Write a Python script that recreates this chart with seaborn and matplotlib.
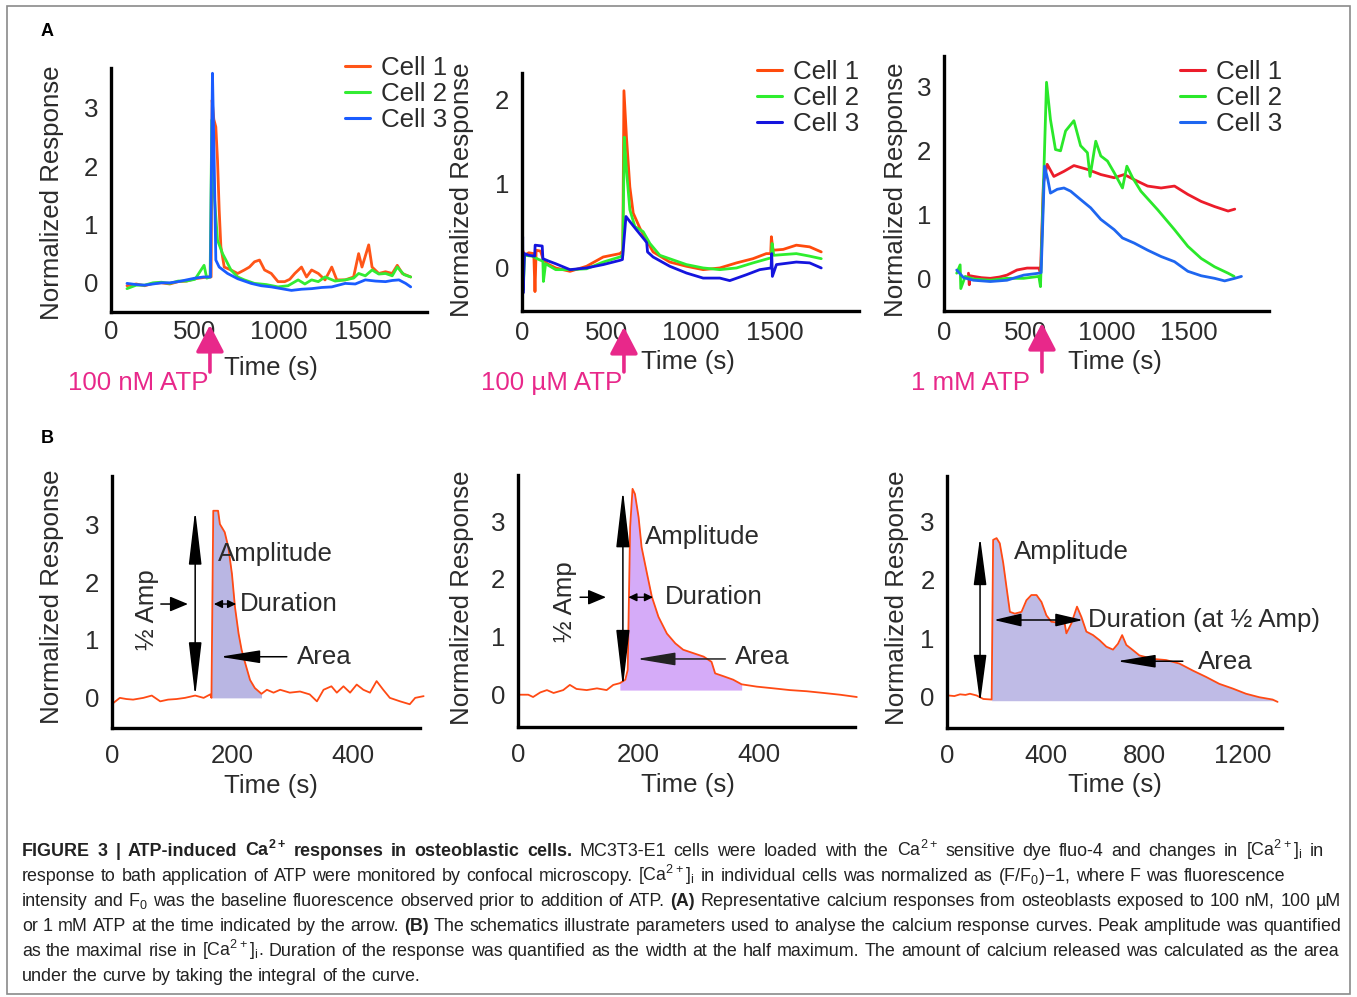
import matplotlib
matplotlib.use("Agg")
import matplotlib.pyplot as plt
import numpy as np
import pandas as pd
import seaborn as sns
from matplotlib import font_manager
from matplotlib.patches import Rectangle

W, H = 1357, 997
MAGENTA = "#e8288a"
INK = "#2b2b2b"
TRACE = "#ff4a14"

# ---- Panel A: responses of three cells, time (s) vs normalized response ----
cells = ["Cell 1", "Cell 2", "Cell 3"]

a1_c1_t = [95, 150, 200, 250, 300, 350, 400, 450, 500, 550, 580, 596, 602, 612, 624, 634, 644, 654, 674, 714,
           754, 794, 824, 854, 884, 914, 954, 994, 1034, 1064, 1094, 1134, 1164, 1194, 1234, 1274, 1314, 1344, 1394, 1444,
           1474, 1494, 1534, 1554, 1594, 1634, 1674, 1704, 1734, 1784]
a1_c1_y = [-0.05, -0.02, -0.05, -0.01, 0.0, -0.02, 0.02, 0.03, 0.07, 0.09, 0.1, 0.1, 3.13, 2.8, 2.67, 2.1, 1.25, 0.62, 0.27, 0.22,
           0.16, 0.22, 0.27, 0.36, 0.39, 0.22, 0.16, 0.02, 0.02, 0.06, 0.16, 0.27, 0.1, 0.22, 0.16, 0.05, 0.27, 0.05, 0.05, 0.1,
           0.5, 0.27, 0.65, 0.27, 0.16, 0.19, 0.16, 0.3, 0.16, 0.1]
a1_c2_t = [95, 150, 200, 250, 300, 350, 400, 450, 500, 554, 570, 590, 600, 614, 634, 664, 684, 714, 754, 794,
           854, 924, 994, 1054, 1114, 1154, 1194, 1234, 1274, 1334, 1394, 1444, 1474, 1514, 1554, 1594, 1634, 1674, 1704, 1744,
           1784]
a1_c2_y = [-0.1, -0.04, -0.04, 0.0, 0.01, -0.01, 0.03, 0.03, 0.06, 0.3, 0.08, 0.1, 2.79, 1.53, 0.73, 0.5, 0.39, 0.22, 0.1, 0.05,
           -0.01, -0.03, -0.07, -0.05, 0.05, -0.02, 0.05, 0.02, 0.1, 0.03, 0.05, 0.08, 0.16, 0.12, 0.22, 0.15, 0.16, 0.12, 0.27, 0.14,
           0.1]
a1_c3_t = [95, 150, 200, 250, 300, 350, 400, 450, 500, 550, 592, 598, 604, 614, 624, 644, 694, 754, 834, 894,
           954, 1014, 1074, 1134, 1194, 1254, 1314, 1394, 1454, 1514, 1574, 1634, 1674, 1714, 1754, 1784]
a1_c3_y = [-0.01, -0.03, -0.04, -0.02, 0.0, 0.0, 0.02, 0.05, 0.08, 0.1, 0.1, 2.0, 3.59, 2.1, 0.39, 0.27, 0.16, 0.07, -0.01, -0.05,
           -0.07, -0.1, -0.13, -0.11, -0.1, -0.08, -0.07, -0.01, -0.02, 0.05, 0.03, 0.02, 0.04, 0.05, -0.01, -0.07]

a2_c1_t = [4, 15, 40, 70, 77, 84, 110, 126, 150, 200, 285, 383, 482, 581, 598, 605, 620, 640, 660, 700,
           739, 778, 877, 976, 1075, 1174, 1273, 1371, 1450, 1476, 1480, 1490, 1550, 1628, 1707, 1776]
a2_c1_y = [0.21, 0.15, 0.18, 0.17, -0.28, 0.21, 0.2, 0.1, 0.05, 0.0, -0.04, 0.02, 0.13, 0.17, 0.2, 2.1, 1.55, 0.96, 0.65, 0.47,
           0.33, 0.19, 0.07, 0.02, -0.02, 0.0, 0.06, 0.11, 0.17, 0.17, 0.37, 0.21, 0.22, 0.27, 0.25, 0.19]
a2_c2_t = [4, 8, 15, 60, 100, 124, 127, 140, 200, 285, 383, 482, 581, 598, 607, 620, 640, 670, 719, 759,
           818, 976, 1075, 1174, 1273, 1371, 1460, 1480, 1484, 1494, 1560, 1628, 1707, 1776]
a2_c2_y = [0.1, -0.26, 0.15, 0.14, 0.1, 0.08, -0.16, 0.05, -0.02, -0.02, -0.01, 0.07, 0.13, 0.15, 1.55, 1.16, 0.69, 0.49, 0.43, 0.29,
           0.15, 0.04, 0.0, -0.02, 0.0, 0.06, 0.11, 0.12, 0.29, 0.15, 0.16, 0.17, 0.14, 0.11]
a2_c3_t = [2, 4, 6, 15, 40, 75, 78, 120, 124, 160, 200, 285, 383, 482, 581, 596, 617, 640, 680, 729,
           740, 745, 778, 877, 976, 1075, 1174, 1233, 1332, 1411, 1478, 1482, 1486, 1510, 1628, 1707, 1776]
a2_c3_y = [0.1, 0.37, -0.3, 0.17, 0.15, 0.14, 0.27, 0.26, 0.11, 0.08, 0.05, -0.02, 0.0, 0.04, 0.09, 0.1, 0.61, 0.55, 0.45, 0.33,
           0.3, 0.19, 0.13, 0.02, -0.06, -0.12, -0.12, -0.15, -0.08, -0.02, 0.0, 0.17, -0.1, 0.04, 0.07, 0.06, 0.0]

a3_c1_t = [150, 155, 160, 181, 230, 284, 340, 386, 448, 510, 560, 582, 592, 610, 633, 674, 736, 797, 880, 962,
           1044, 1106, 1167, 1249, 1332, 1414, 1496, 1578, 1660, 1743, 1784]
a3_c1_y = [0.09, -0.09, 0.05, 0.04, 0.02, 0.01, 0.03, 0.06, 0.14, 0.17, 0.17, 0.17, 0.09, 1.5, 1.79, 1.6, 1.68, 1.77, 1.71, 1.63,
           1.58, 1.63, 1.55, 1.45, 1.42, 1.45, 1.32, 1.21, 1.13, 1.06, 1.09]
a3_c2_t = [78, 99, 103, 130, 181, 284, 386, 489, 582, 592, 629, 653, 684, 715, 746, 797, 838, 880, 896, 931,
           962, 1003, 1044, 1095, 1122, 1157, 1208, 1311, 1414, 1496, 1578, 1660, 1743, 1780]
a3_c2_y = [0.09, 0.22, -0.15, 0.04, 0.0, -0.02, 0.01, 0.01, 0.04, -0.12, 3.07, 2.49, 2.02, 2.0, 2.31, 2.47, 2.08, 1.97, 1.6, 2.15,
           1.92, 1.84, 1.66, 1.42, 1.76, 1.58, 1.37, 1.08, 0.77, 0.51, 0.32, 0.19, 0.09, 0.04]
a3_c3_t = [78, 120, 181, 284, 386, 489, 582, 596, 617, 637, 653, 695, 736, 777, 838, 900, 962, 1003, 1044, 1095,
           1167, 1249, 1332, 1414, 1496, 1578, 1660, 1722, 1784, 1825]
a3_c3_y = [0.14, 0.02, -0.02, -0.04, -0.02, 0.06, 0.09, 0.1, 1.76, 1.55, 1.34, 1.4, 1.42, 1.37, 1.24, 1.11, 0.93, 0.85, 0.77, 0.64,
           0.56, 0.45, 0.35, 0.27, 0.12, 0.05, 0.01, -0.03, 0.01, 0.04]

atp_labels = ["100 nM ATP", "100 \u00b5M ATP", "1 mM ATP"]
atp_time = [589, 605, 601]

# ---- Panel B: schematic traces ----
b1_t = [2, 13, 24, 35, 52, 66, 80, 93, 107, 121, 138, 152, 163, 165, 168, 176, 179, 187, 193, 199,
        204, 210, 215, 221, 229, 237, 248, 257, 268, 279, 295, 312, 328, 340, 351, 364, 373, 384, 395, 406,
        417, 428, 439, 450, 461, 478, 494, 503, 517]
b1_y = [-0.09, 0.0, -0.02, -0.03, 0.0, 0.04, -0.06, -0.03, -0.02, 0.0, 0.04, 0.0, 0.06, 0.0, 3.23, 3.23, 3.0, 2.86, 2.6, 2.14,
        1.57, 1.11, 0.83, 0.6, 0.31, 0.17, 0.07, 0.14, 0.09, 0.14, 0.09, 0.11, 0.06, -0.06, 0.14, 0.2, 0.09, 0.2, 0.09, 0.23,
        0.14, 0.09, 0.29, 0.14, 0.0, -0.06, -0.11, 0.0, 0.03]
b2_t = [3, 17, 25, 37, 48, 59, 75, 86, 97, 114, 131, 147, 158, 169, 178, 182, 186, 190, 194, 200,
        205, 214, 222, 233, 247, 261, 274, 291, 308, 321, 327, 341, 357, 371, 396, 424, 451, 479, 507, 534,
        562]
b2_y = [-0.01, -0.01, -0.05, 0.03, 0.07, 0.02, 0.07, 0.16, 0.09, 0.07, 0.1, 0.07, 0.16, 0.19, 0.25, 0.42, 2.9, 3.56, 3.47, 3.07,
        2.55, 2.09, 1.69, 1.34, 1.05, 0.88, 0.77, 0.71, 0.65, 0.56, 0.36, 0.31, 0.25, 0.17, 0.13, 0.1, 0.07, 0.05, 0.02, -0.01,
        -0.05]
b3_t = [5, 30, 53, 75, 93, 120, 147, 181, 187, 201, 214, 228, 241, 255, 275, 302, 322, 342, 363, 383,
        403, 423, 457, 477, 484, 504, 527, 545, 565, 592, 619, 646, 673, 693, 710, 727, 754, 780, 834, 888,
        942, 996, 1050, 1104, 1158, 1212, 1266, 1320, 1340]
b3_y = [0.01, 0.0, 0.03, 0.02, 0.04, 0.01, -0.05, -0.06, 2.69, 2.72, 2.63, 2.29, 1.88, 1.45, 1.42, 1.45, 1.65, 1.74, 1.74, 1.62,
        1.39, 1.28, 1.26, 1.25, 1.08, 1.25, 1.54, 1.36, 1.11, 1.05, 0.96, 0.85, 0.8, 0.9, 1.05, 0.88, 0.79, 0.7, 0.64, 0.62,
        0.56, 0.44, 0.33, 0.21, 0.13, 0.04, -0.02, -0.06, -0.1]
# shaded area: (start, end, base)
b_area = [(165, 248, 0.0), (169, 371, 0.07), (181, 1340, -0.08)]

caption = [
    [("bold", "FIGURE 3 | ATP-induced Ca$^{2+}$ responses in osteoblastic cells."),
     ("normal", "MC3T3-E1 cells were loaded with the Ca$^{2+}$ sensitive dye fluo-4 and changes in [Ca$^{2+}$]$_i$ in")],
    [("normal", "response to bath application of ATP were monitored by confocal microscopy. [Ca$^{2+}$]$_i$ in individual "
                "cells was normalized as (F/F$_0$)\u22121, where F was fluorescence")],
    [("normal", "intensity and F$_0$ was the baseline fluorescence observed prior to addition of ATP."), ("bold", "(A)"),
     ("normal", "Representative calcium responses from osteoblasts exposed to 100 nM, 100 \u00b5M")],
    [("normal", "or 1 mM ATP at the time indicated by the arrow."), ("bold", "(B)"),
     ("normal", "The schematics illustrate parameters used to analyse the calcium response curves. Peak amplitude was quantified")],
    [("normal", "as the maximal rise in [Ca$^{2+}$]$_i$. Duration of the response was quantified as the width at the half "
                "maximum. The amount of calcium released was calculated as the area")],
    [("normal", "under the curve by taking the integral of the curve.")],
]
caption_right = [1324, 1285, 1341, 1341, 1339, None]

# ---------------------------------------------------------------------------
sns.set_style("white")
plt.rcParams["font.family"] = ["Liberation Sans", "DejaVu Sans"]
plt.rcParams["mathtext.default"] = "regular"
FS = 18.6

fig = plt.figure(figsize=(W / 100, H / 100), dpi=100)


def px_axes(left, top, right, bottom):
    return fig.add_axes([left / W, 1 - bottom / H, (right - left) / W, (bottom - top) / H])


def style(ax, xlim, ylim, xticks, yticks, xpad, xlab, ylab, yticklabels=None):
    ax.set_xlim(xlim)
    ax.set_ylim(ylim)
    ax.set_xticks(xticks)
    ax.set_yticks(yticks)
    if yticklabels is not None:
        ax.set_yticklabels(yticklabels)
    sns.despine(ax=ax)
    for s in ("left", "bottom"):
        ax.spines[s].set_linewidth(2.4)
        ax.spines[s].set_color("black")
    ax.tick_params(direction="in", length=8.5, width=2.4, color="black", labelcolor=INK, labelsize=FS)
    ax.tick_params(axis="x", pad=xpad)
    ax.tick_params(axis="y", pad=9)
    ax.set_xlabel("Time (s)", fontsize=FS, color=INK, va="center")
    ax.set_ylabel("Normalized Response", fontsize=FS, color=INK, va="center")
    ax.xaxis.set_label_coords(*xlab)
    ax.yaxis.set_label_coords(*ylab)
    ax.patch.set_alpha(0)


def arrow(ax, start, end, style_, hl, hw, lw=1.1, color="black", coords="data"):
    ax.annotate("", xy=end, xytext=start, xycoords=coords, textcoords=coords,
                arrowprops=dict(arrowstyle=f"{style_},head_length={hl},head_width={hw}",
                                mutation_scale=1, lw=lw, color=color, shrinkA=0, shrinkB=0),
                annotation_clip=False)


# ---------------- Panel A ----------------
a_series = [
    [(a1_c1_t, a1_c1_y), (a1_c2_t, a1_c2_y), (a1_c3_t, a1_c3_y)],
    [(a2_c1_t, a2_c1_y), (a2_c2_t, a2_c2_y), (a2_c3_t, a2_c3_y)],
    [(a3_c1_t, a3_c1_y), (a3_c2_t, a3_c2_y), (a3_c3_t, a3_c3_y)],
]
a_colors = [["#ff5518", "#33ec33", "#1a5cff"],
            ["#ff4a0c", "#2eee2e", "#1414de"],
            ["#ec1c2a", "#2ae82a", "#1e66f0"]]
a_boxes = [(111, 68, 427, 312), (522, 73, 859, 311), (944, 56, 1269, 311)]
a_lims = [((0, 1881), (-0.5, 3.68)), ((0, 2000), (-0.51, 2.31)), ((0, 1994), (-0.5, 3.48))]
a_yticks = [[0, 1, 2, 3], [0, 0.5, 1, 1.5, 2], [0, 1, 2, 3]]
a_ytl = [None, ["0", "", "1", "", "2"], None]
a_xlab = [(0.506, -0.2295), (0.493, -0.214), (0.526, -0.20)]
a_ylab = [(-0.187, 0.49), (-0.178, 0.508), (-0.148, 0.475)]
a_legend = [(345, 56), (757, 60), (1180, 60)]
a_arrow = [(-0.053, -0.246), (-0.067, -0.256), (-0.047, -0.239)]
a_label_right = [208, 622, 1030]
a_xpad = [6, 7, 7]

for i in range(3):
    ax = px_axes(*a_boxes[i])
    df = pd.concat([pd.DataFrame({"time": t, "response": y, "cell": c})
                    for c, (t, y) in zip(cells, a_series[i])], ignore_index=True)
    sns.lineplot(data=df, x="time", y="response", hue="cell", palette=a_colors[i],
                 lw=2.0, ax=ax, legend=False, estimator=None, sort=False)
    style(ax, a_lims[i][0], a_lims[i][1], [0, 500, 1000, 1500], a_yticks[i], a_xpad[i],
          a_xlab[i], a_ylab[i], a_ytl[i])
    lx, ly = a_legend[i]
    leg = ax.legend(ax.get_lines()[:3], cells, loc="upper left", bbox_to_anchor=(lx / W, 1 - ly / H),
                    bbox_transform=fig.transFigure, frameon=False, fontsize=FS, borderpad=0,
                    borderaxespad=0, handlelength=0.95, handletextpad=0.45, labelspacing=0.08)
    for txt in leg.get_texts():
        txt.set_color(INK)
    for ln in leg.get_lines():
        ln.set_linewidth(2.2)
    tip, tail = a_arrow[i]
    arrow(ax, (atp_time[i], tail), (atp_time[i], tip), "-|>", 16.5, 8.6, lw=2.6, color=MAGENTA,
          coords=ax.get_xaxis_transform())
    fig.text(a_label_right[i] / W, 1 - 383 / H, atp_labels[i], ha="right", va="center",
             fontsize=FS, color=MAGENTA)

# ---------------- Panel B ----------------
b_traces = [(b1_t, b1_y), (b2_t, b2_y), (b3_t, b3_y)]
b_fill = ["#b9b6e3", "#d5abf8", "#bfbbe6"]
b_boxes = [(112, 476, 420, 728), (518, 475, 855, 727), (947, 476, 1282, 728)]
b_lims = [((0, 511), (-0.52, 3.83)), ((0, 559), (-0.57, 3.8)), ((0, 1358), (-0.55, 3.79))]
b_xticks = [[0, 200, 400], [0, 200, 400], [0, 400, 800, 1200]]
b_xlab = [(0.516, -0.23), (0.504, -0.23), (0.501, -0.226)]
b_ylab = [(-0.195, 0.52), (-0.166, 0.512), (-0.149, 0.516)]
b_axes = []

for i in range(3):
    ax = px_axes(*b_boxes[i])
    t = np.array(b_traces[i][0], dtype=float)
    y = np.array(b_traces[i][1], dtype=float)
    start, end, base = b_area[i]
    ax.fill_between(t, y, base, where=(t >= start) & (t <= end), color=b_fill[i], lw=0, zorder=1)
    sns.lineplot(x=t, y=y, color=TRACE, lw=1.3, ax=ax, estimator=None, sort=False, zorder=2)
    ax.get_lines()[-1].set_clip_on(False)
    style(ax, b_lims[i][0], b_lims[i][1], b_xticks[i], [0, 1, 2, 3], 11.5, b_xlab[i], b_ylab[i])
    b_axes.append(ax)

txt_kw = dict(fontsize=FS, color=INK, va="center", zorder=5)

ax = b_axes[0]
arrow(ax, (138, 0.02), (138, 3.24), "<|-|>", 34, 4.0)
arrow(ax, (81, 1.62), (126, 1.62), "-|>", 11, 4.6)
arrow(ax, (169, 1.62), (206, 1.62), "<|-|>", 5, 2.4, lw=1.0)
arrow(ax, (290, 0.71), (179, 0.71), "-|>", 25, 4.0)
ax.text(58, 1.52, "\u00bd Amp", rotation=90, ha="center", **txt_kw)
ax.text(176, 2.48, "Amplitude", ha="left", **txt_kw)
ax.text(212, 1.62, "Duration", ha="left", **txt_kw)
ax.text(307, 0.71, "Area", ha="left", **txt_kw)

ax = b_axes[1]
arrow(ax, (174, 0.12), (174, 3.54), "<|-|>", 36, 4.2)
arrow(ax, (103, 1.68), (146, 1.68), "-|>", 11, 4.6)
arrow(ax, (183, 1.68), (224, 1.68), "<|-|>", 5, 2.4, lw=1.0)
arrow(ax, (344, 0.61), (197, 0.61), "-|>", 24, 4.0, color="#222222")
ax.text(78, 1.6, "\u00bd Amp", rotation=90, ha="center", **txt_kw)
ax.text(211, 2.72, "Amplitude", ha="left", **txt_kw)
ax.text(244, 1.68, "Duration", ha="left", **txt_kw)
ax.text(360, 0.64, "Area", ha="left", **txt_kw)

ax = b_axes[2]
arrow(ax, (134, -0.12), (134, 2.74), "<|-|>", 30, 4.0)
arrow(ax, (190, 1.31), (551, 1.31), "<|-|>", 17, 4.0)
arrow(ax, (956, 0.6), (689, 0.6), "-|>", 24, 4.0)
ax.text(271, 2.48, "Amplitude", ha="left", **txt_kw)
ax.text(571, 1.31, "Duration (at \u00bd Amp)", ha="left", **txt_kw)
ax.text(1017, 0.59, "Area", ha="left", **txt_kw)

# panel letters and frame
fig.text(47 / W, 1 - 32 / H, "A", fontsize=13, weight="bold", ha="center", va="center", color="black")
fig.text(47 / W, 1 - 438 / H, "B", fontsize=13, weight="bold", ha="center", va="center", color="black")
fig.patches.append(Rectangle((7 / W, 1 - 994 / H), (1350 - 7) / W, (994 - 6) / H, transform=fig.transFigure,
                             fill=False, edgecolor="#8a8a8a", lw=1.2))

# ---------------- caption (justified) ----------------
names = {f.name for f in font_manager.fontManager.ttflist}
cap_family = ["Liberation Sans Narrow"] if "Liberation Sans Narrow" in names else ["Liberation Sans"]
cap_size = 12.6
renderer = fig.canvas.get_renderer()
x0 = 22


def width(t):
    return t.get_window_extent(renderer).width


lines = []
for segs in caption:
    words = []
    for weight, s in segs:
        for wd in s.split(" "):
            words.append(fig.text(0, 0, wd, fontsize=cap_size, weight=weight, family=cap_family,
                                  color="#222222", va="baseline", ha="left"))
    lines.append(words)

probe_a = fig.text(0, 0, "x x", fontsize=cap_size, family=cap_family)
probe_b = fig.text(0, 0, "xx", fontsize=cap_size, family=cap_family)
space = width(probe_a) - width(probe_b)
probe_a.remove()
probe_b.remove()

# scale the caption so the tightest justified line just fits with normal spaces
scale = min((right - x0) / (sum(width(w) for w in words) + space * (len(words) - 1))
            for words, right in zip(lines, caption_right) if right is not None)
scale = min(scale, 1.35)
cap_size *= scale
space *= scale
for words in lines:
    for w in words:
        w.set_fontsize(cap_size)

for k, (words, right) in enumerate(zip(lines, caption_right)):
    widths = [width(w) for w in words]
    gap = space if right is None else (right - x0 - sum(widths)) / (len(words) - 1)
    x = x0
    base_y = 856 + 25 * k
    for w, ww in zip(words, widths):
        w.set_position((x / W, 1 - base_y / H))
        x += ww + gap

fig.savefig("out.png", dpi=100)
